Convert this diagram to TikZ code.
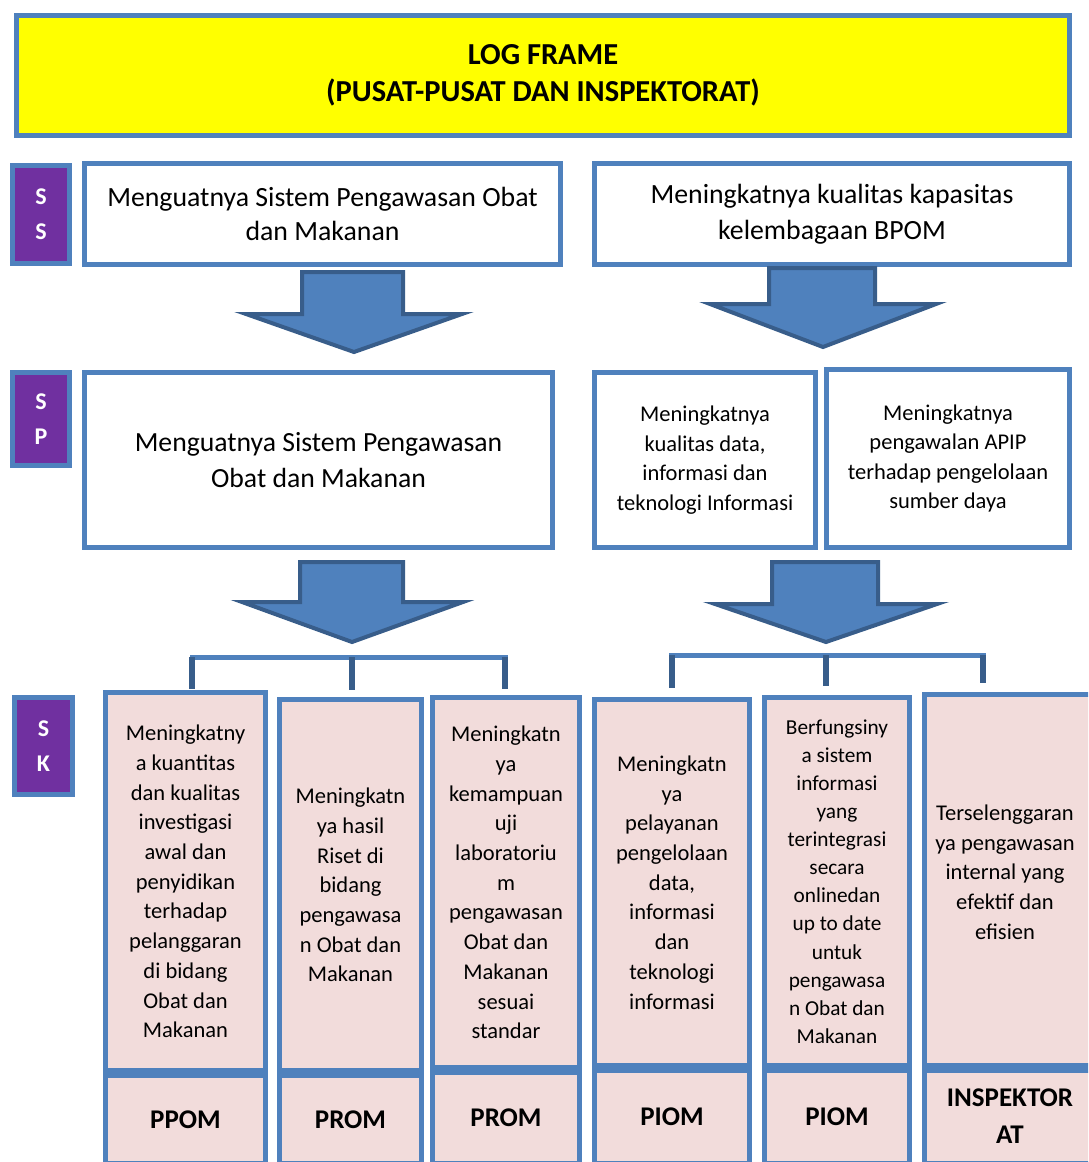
\documentclass[tikz,border=0pt]{standalone}
\usepackage{fontspec}
\setmainfont{Carlito}
\definecolor{bdr}{RGB}{79,129,189}
\definecolor{bdrdark}{RGB}{56,93,138}
\definecolor{purp}{RGB}{112,48,160}
\definecolor{pinkc}{RGB}{242,220,219}
\definecolor{yel}{RGB}{255,255,0}
\tikzset{
  box/.style={draw=bdr, line width=5pt, fill=white, align=center, inner sep=0pt},
  lab/.style={draw=bdr, line width=5pt, fill=purp, text=white, align=center, inner sep=0pt,
    font=\fontsize{24}{35}\selectfont\bfseries},
  colbox/.style={draw=bdr, line width=5pt, fill=pinkc, align=center, inner sep=0pt,
    font=\fontsize{22.5}{29.7}\selectfont},
  unitbox/.style={draw=bdr, line width=5pt, fill=pinkc, align=center, inner sep=0pt,
    font=\fontsize{27}{37}\selectfont\bfseries},
  blockarrow/.style={draw=bdrdark, line width=4pt, fill=bdr, line join=miter},
  brk/.style={draw=bdr, line width=5pt},
  drop/.style={draw=bdrdark, line width=6pt}
}
\begin{document}
\begin{tikzpicture}[x=1pt,y=-1pt]
\useasboundingbox (0,0) rectangle (1088,1162);
\clip (0,0) rectangle (1088,1162);
% title
\node[box, fill=yel, minimum width=1053pt, minimum height=120pt,
  font=\fontsize{30.5}{37}\selectfont\bfseries] (title) at (543,75)
  {LOG FRAME\\(PUSAT-PUSAT DAN INSPEKTORAT)};
% row labels
\node[lab, minimum width=57pt, minimum height=98pt] (ss) at (41,214.5) {S\\S};
\node[lab, minimum width=57pt, minimum height=93pt] (sp) at (41,419) {S\\P};
\node[lab, minimum width=58pt, minimum height=97pt] (sk) at (43.5,746) {S\\K};
% SS row
\node[box, minimum width=476pt, minimum height=101pt, font=\fontsize{27.8}{34}\selectfont] (ss1) at (322.5,214)
  {Menguatnya Sistem Pengawasan Obat\\dan Makanan};
\node[box, minimum width=475pt, minimum height=101pt, font=\fontsize{27.8}{36}\selectfont] (ss2) at (832,214)
  {Meningkatnya kualitas kapasitas\\kelembagaan BPOM};
% SP row
\node[box, minimum width=468pt, minimum height=175pt, font=\fontsize{27.7}{36}\selectfont] (sp1) at (318.5,460)
  {Menguatnya Sistem Pengawasan\\Obat dan Makanan};
\node[box, minimum width=221pt, minimum height=175pt, font=\fontsize{22.5}{29.5}\selectfont] (sp2) at (705,460)
  {Meningkatnya\\kualitas data,\\informasi dan\\teknologi Informasi};
\node[box, minimum width=243pt, minimum height=178pt, font=\fontsize{22.5}{29.5}\selectfont] (sp3) at (948,458.5)
  {Meningkatnya\\pengawalan APIP\\terhadap pengelolaan\\sumber daya};
% block arrows
\draw[blockarrow] (302,272) -- (403,272) -- (403,314) -- (462,314) -- (354,352) -- (246,314) -- (302,314) -- cycle;
\draw[blockarrow] (769,268) -- (875,268) -- (875,304) -- (936,304) -- (823,347) -- (710,304) -- (769,304) -- cycle;
\draw[blockarrow] (300,562) -- (403,562) -- (403,602) -- (463,602) -- (352,642) -- (242,602) -- (300,602) -- cycle;
\draw[blockarrow] (772,562) -- (878,562) -- (878,604) -- (937,604) -- (826,642) -- (715,604) -- (772,604) -- cycle;
% SK columns
\node[colbox, minimum width=160pt, minimum height=378pt] (k1) at (185.5,881.5)
  {Meningkatny\\a kuantitas\\dan kualitas\\investigasi\\awal dan\\penyidikan\\terhadap\\pelanggaran\\di bidang\\Obat dan\\Makanan};
\node[colbox, minimum width=142pt, minimum height=371pt] (k2) at (350.5,885)
  {Meningkatn\\ya hasil\\Riset di\\bidang\\pengawasa\\n Obat dan\\Makanan};
\node[colbox, minimum width=147pt, minimum height=370pt] (k3) at (506,882.5)
  {Meningkatn\\ya\\kemampuan\\uji\\laboratoriu\\m\\pengawasan\\Obat dan\\Makanan\\sesuai\\standar};
\node[colbox, minimum width=155pt, minimum height=366pt] (k4) at (672,882.5)
  {Meningkatn\\ya\\pelayanan\\pengelolaan\\data,\\informasi\\dan\\teknologi\\informasi};
\node[colbox, minimum width=145pt, minimum height=368pt, font=\fontsize{21.3}{28.1}\selectfont] (k5) at (837,881.5)
  {Berfungsiny\\a sistem\\informasi\\yang\\terintegrasi\\secara\\onlinedan\\up to date\\untuk\\pengawasa\\n Obat dan\\Makanan};
\node[colbox, minimum width=168pt, minimum height=371pt] (k6) at (1008.5,880) {};
\node[align=center, inner sep=0pt, font=\fontsize{22.5}{29.7}\selectfont] (k6t) at (1005,872)
  {Terselenggaran\\ya pengawasan\\internal yang\\efektif dan\\efisien};
% unit labels
\node[unitbox, minimum width=160pt, minimum height=88pt] (u1) at (185.5,1119.5) {PPOM};
\node[unitbox, minimum width=142pt, minimum height=88pt] (u2) at (350.5,1119.5) {PROM};
\node[unitbox, minimum width=147pt, minimum height=91pt] (u3) at (506,1118) {PROM};
\node[unitbox, minimum width=155pt, minimum height=93pt] (u4) at (672,1117) {PIOM};
\node[unitbox, minimum width=145pt, minimum height=93pt] (u5) at (837,1117) {PIOM};
\node[unitbox, minimum width=168pt, minimum height=93pt] (u6) at (1008.5,1117) {};
\node[align=center, inner sep=0pt, font=\fontsize{27}{37}\selectfont\bfseries] (u6t) at (1010,1116) {INSPEKTOR\\AT};
% brackets
\coordinate (bl0) at (190,657); \coordinate (bl1) at (508,657);
\draw[brk] (bl0) -- (bl1);
\draw[drop] (192,657) -- (192,689);
\draw[drop] (352,657) -- (352,690);
\draw[drop] (505,657) -- (505,689);
\coordinate (br0) at (669,655); \coordinate (br1) at (986,655);
\draw[brk] (br0) -- (br1);
\draw[drop] (672,655) -- (672,688);
\draw[drop] (826,655) -- (826,686);
\draw[drop] (983,655) -- (983,683);
\end{tikzpicture}
\end{document}
